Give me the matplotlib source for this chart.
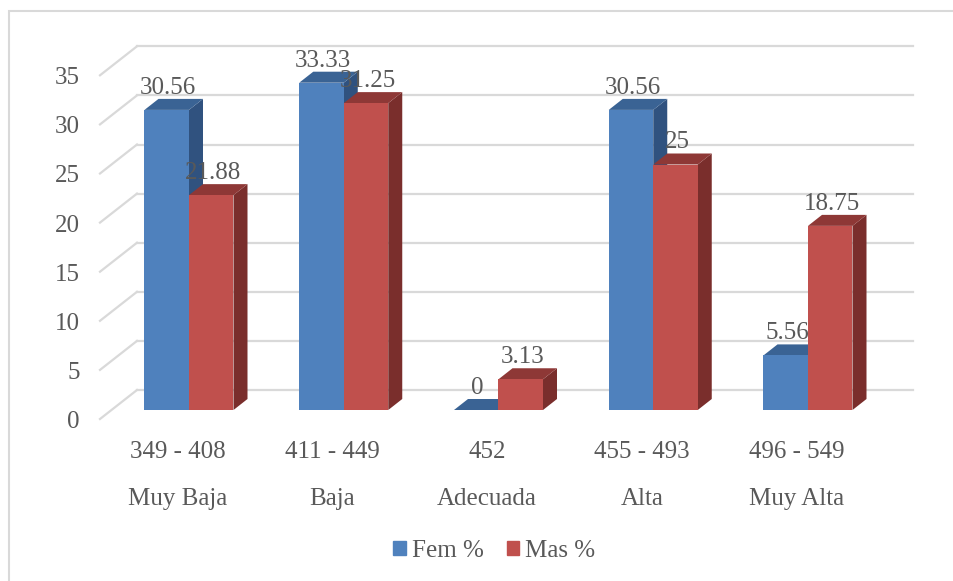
import matplotlib
matplotlib.use("Agg")
import matplotlib.pyplot as plt
from matplotlib.patches import Polygon, Patch, Rectangle

plt.rcParams["font.family"] = ["Liberation Serif", "DejaVu Serif"]

# data
ranges = ["349 - 408", "411 - 449", "452", "455 - 493", "496 - 549"]
levels = ["Muy Baja", "Baja", "Adecuada", "Alta", "Muy Alta"]
fem = [30.56, 33.33, 0, 30.56, 5.56]
mas = [21.88, 31.25, 3.13, 25, 18.75]
fem_labels = ["30.56", "33.33", "0", "30.56", "5.56"]
mas_labels = ["21.88", "31.25", "3.13", "25", "18.75"]
y_ticks = [0, 5, 10, 15, 20, 25, 30, 35]

TEXT = "#595959"
GRID = "#d9d9d9"
BLUE = ("#4F81BD", "#3A6394", "#30527F")   # front, top, side
RED = ("#C0504D", "#8E3836", "#7A2E2C")

W, H = 954, 581
# pixel scale of the layout: one category step and one value unit
CAT_PX = 154.75
VAL_PX = 9.82
X0_PX = 189     # pixel x of first category centre
Y0_PX = 410     # pixel y of value 0 on bar fronts


def px_x(p):
    return p / CAT_PX


def px_y(p):
    return p / VAL_PX


fig = plt.figure(figsize=(W / 100, H / 100), dpi=100)
ax = fig.add_axes([0, 0, 1, 1])
ax.set_xlim(-X0_PX / CAT_PX, (W - X0_PX) / CAT_PX)
ax.set_ylim((Y0_PX - H) / VAL_PX, Y0_PX / VAL_PX)
ax.axis("off")

# outer chart border (only top and left visible)
fig.add_artist(Rectangle((9 / W, -0.1), 2, 1 - 11 / H + 0.1, transform=fig.transFigure,
                         fill=False, ec=GRID, lw=1.5))

# floor / back wall geometry (3D look)
front_left = -(X0_PX - 100) / CAT_PX
back_left = -(X0_PX - 137) / CAT_PX
back_right = (913 - X0_PX) / CAT_PX
front_dy = -px_y(9)
back_dy = px_y(20)

for v in y_ticks:
    ax.plot([back_left, back_right], [v + back_dy, v + back_dy], color=GRID, lw=1.6, zorder=1)
    ax.plot([front_left, back_left], [v + front_dy, v + back_dy], color=GRID, lw=1.6, zorder=1)
    ax.text(-(X0_PX - 80) / CAT_PX, v + front_dy - px_y(9), str(v), ha="right", va="baseline",
            fontsize=18, color=TEXT)

bar_w = px_x(44.5)
dx, dy = px_x(14), px_y(11)
x = list(range(len(ranges)))


def faces(ax, bars, colors, z):
    for b in bars:
        x0, w, h = b.get_x(), b.get_width(), b.get_height()
        top = [(x0, h), (x0 + w, h), (x0 + w + dx, h + dy), (x0 + dx, h + dy)]
        side = [(x0 + w, 0), (x0 + w + dx, dy), (x0 + w + dx, h + dy), (x0 + w, h)]
        ax.add_patch(Polygon(side, closed=True, fc=colors[2], ec="none", zorder=z))
        ax.add_patch(Polygon(top, closed=True, fc=colors[1], ec="none", zorder=z + 0.1))


bars_f = ax.bar([i - bar_w / 2 for i in x], fem, width=bar_w, color=BLUE[0], zorder=3.2)
faces(ax, bars_f, BLUE, 3)
bars_m = ax.bar([i + bar_w / 2 for i in x], mas, width=bar_w, color=RED[0], zorder=4.2)
faces(ax, bars_m, RED, 4)

for bars, labels in [(bars_f, fem_labels), (bars_m, mas_labels)]:
    for b, lab in zip(bars, labels):
        cx = b.get_x() + b.get_width() / 2 + px_x(1.5)
        ax.text(cx, b.get_height() + dy + px_y(5), lab, ha="center", va="baseline",
                fontsize=18, color=TEXT, zorder=10)

for i in x:
    ax.text(i - px_x(11.5), -px_y(458 - Y0_PX), ranges[i], ha="center", va="baseline",
            fontsize=18, color=TEXT)
    ax.text(i - px_x(11.5), -px_y(505 - Y0_PX), levels[i], ha="center", va="baseline",
            fontsize=18, color=TEXT)

handles = [Patch(color=BLUE[0], label="Fem %"), Patch(color=RED[0], label="Mas %")]
leg = ax.legend(handles=handles, loc="center", bbox_to_anchor=(494.5 / W, 1 - 551 / H),
                bbox_transform=fig.transFigure, ncol=2, frameon=False, fontsize=18,
                handlelength=0.5, handleheight=0.5, handletextpad=0.25, columnspacing=0.9,
                borderpad=0)
for t in leg.get_texts():
    t.set_color(TEXT)

fig.savefig("out.png", dpi=100)
